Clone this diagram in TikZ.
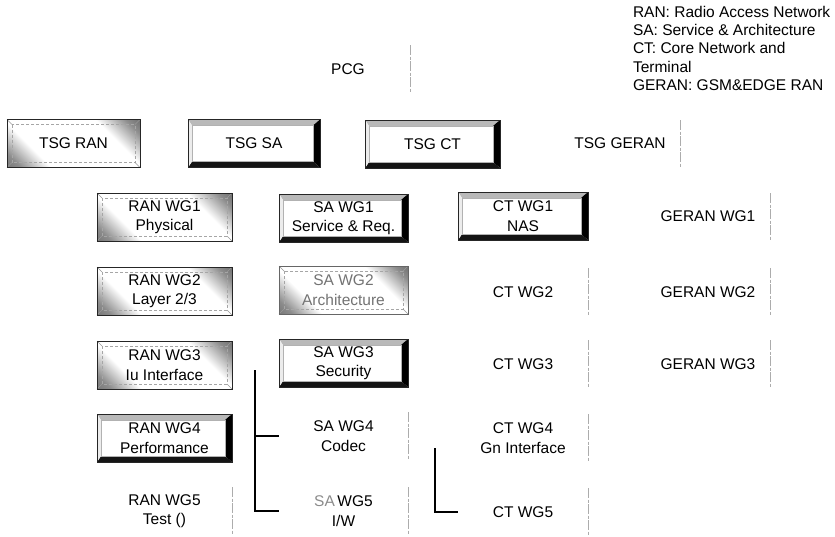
\documentclass[tikz,border=0pt]{standalone}
\usepackage{fontspec}
\setmainfont{Liberation Sans}
\usetikzlibrary{calc,backgrounds}
\pgfdeclarehorizontalshading{diagsh}{100bp}{color(0bp)=(black!75); color(20bp)=(black!45); color(32bp)=(white); color(68bp)=(white); color(80bp)=(black!45); color(100bp)=(black!85)}
\newcommand\cornerpts[5]{% node, top, right, bottom, left inset
  \path (#1.north west) coordinate (bNW) (#1.north east) coordinate (bNE)
        (#1.south east) coordinate (bSE) (#1.south west) coordinate (bSW);
  \path ($(bNW)+(#5,#2)$) coordinate (iNW) ($(bNE)+(-#3,#2)$) coordinate (iNE)
        ($(bSE)+(-#3,-#4)$) coordinate (iSE) ($(bSW)+(#5,-#4)$) coordinate (iSW);
}
\newcommand\raisedbevel[1]{%
  \begin{pgfonlayer}{background}
  \cornerpts{#1}{6}{7}{6}{4}
  \fill[white] (bNW) rectangle (bSE);
  \fill[gray!55] (bNW)--(bNE)--(iNE)--(iNW)--cycle;
  \fill[black] (bNE)--(bSE)--(iSE)--(iNE)--cycle;
  \fill[black!92] (bSW)--(bSE)--(iSE)--(iSW)--cycle;
  \fill[gray!15] (bNW)--(bSW)--(iSW)--(iNW)--cycle;
  \draw[gray!60, line width=0.4pt] (iNW) rectangle (iSE);
  \end{pgfonlayer}}
\newcommand\lightbevel[1]{%
  \begin{pgfonlayer}{background}
  \cornerpts{#1}{5}{5}{5}{5}
  \shade[shading=diagsh, shading angle=45] (bSW) rectangle (bNE);
  \draw[gray!70, line width=0.5pt, densely dashed] (iNW) rectangle (iSE);
  \draw[gray!80, line width=0.5pt] (bNW)--(iNW) (bNE)--(iNE) (bSE)--(iSE) (bSW)--(iSW);
  \end{pgfonlayer}}
\tikzset{
  lbl/.style={font=\fontsize{15.5}{19.5}\selectfont, align=center, inner sep=0pt, outer sep=0pt},
  boxn/.style={lbl, draw=black!85, line width=0.7pt, minimum height=48pt},
  plain/.style={lbl, minimum height=48pt},
  ghost/.style={draw=gray!65, line width=0.7pt, dash pattern=on 10pt off 1.5pt on 3pt off 1.5pt},
  conn/.style={draw=black, line width=1.1pt},
  rancol/.style={minimum width=135pt},
  sacol/.style={minimum width=129pt},
  ctcol/.style={minimum width=130pt},
  gercol/.style={minimum width=124pt},
}
\begin{document}
\begin{tikzpicture}[x=1pt,y=-1pt]
\useasboundingbox (0,0) rectangle (835,536);

% legend
\node[lbl, align=left, anchor=north west, font=\fontsize{15.5}{18.3}\selectfont] (legend) at (633,6)
  {RAN: Radio Access Network\\SA: Service \& Architecture\\CT: Core Network and\\Terminal\\GERAN: GSM\&EDGE RAN};

% top
\node[plain, minimum width=124pt] (pcg) at (348,69) {PCG};

% TSG row
\node[boxn, minimum width=133pt] (tsgran) at (73.5,143.5) {TSG RAN};
\node[boxn, minimum width=132pt] (tsgsa) at (254,143.5) {TSG SA};
\node[boxn, minimum width=135pt] (tsgct) at (432.5,144) {TSG CT};
\node[plain, minimum width=120pt, minimum height=47pt] (tsggeran) at (620,143.5) {TSG GERAN};

% RAN column
\node[boxn, rancol] (ranwg1) at (164.5,217) {RAN WG1\\Physical};
\node[boxn, rancol] (ranwg2) at (164.5,291) {RAN WG2\\Layer 2/3};
\node[boxn, rancol] (ranwg3) at (164.5,365) {RAN WG3\\Iu Interface};
\node[boxn, rancol] (ranwg4) at (164.5,438) {RAN WG4\\Performance};
\node[plain, rancol] (ranwg5) at (164.5,511) {RAN WG5\\Test ()};

% SA column
\node[boxn, sacol] (sawg1) at (343.5,218) {SA WG1\\Service \& Req.};
\node[boxn, sacol, draw=black!60, text=black!55] (sawg2) at (343.5,290) {SA WG2\\Architecture};
\node[boxn, sacol] (sawg3) at (343.5,363) {SA WG3\\Security};
\node[plain, sacol] (sawg4) at (343.5,436) {SA WG4\\Codec};
\node[plain, sacol] (sawg5) at (343.5,511) {{\color{black!45}SA}\,WG5\\I/W};

% CT column
\node[boxn, ctcol] (ctwg1) at (523,216) {CT WG1\\NAS};
\node[plain, ctcol] (ctwg2) at (523,292) {CT WG2};
\node[plain, ctcol] (ctwg3) at (523,364) {CT WG3};
\node[plain, ctcol] (ctwg4) at (523,438) {CT WG4\\Gn Interface};
\node[plain, ctcol] (ctwg5) at (523,512) {CT WG5};

% GERAN column
\node[plain, gercol, minimum height=47pt] (geranwg1) at (708,216.5) {GERAN WG1};
\node[plain, gercol] (geranwg2) at (708,292) {GERAN WG2};
\node[plain, gercol] (geranwg3) at (708,364) {GERAN WG3};

% bevels
\raisedbevel{tsgsa}
\raisedbevel{tsgct}
\raisedbevel{sawg1}
\raisedbevel{ctwg1}
\raisedbevel{sawg3}
\raisedbevel{ranwg4}
\lightbevel{tsgran}
\lightbevel{ranwg1}
\lightbevel{ranwg2}
\lightbevel{ranwg3}
\lightbevel{sawg2}

% ghost edges of unframed boxes
\foreach \n in {pcg,tsggeran,geranwg1,geranwg2,geranwg3,ctwg2,ctwg3,ctwg4,ctwg5,sawg4,sawg5,ranwg5}
  \draw[ghost] (\n.north east) -- (\n.south east);

% brackets
\coordinate (brA) at (255,370);
\draw[conn] (brA) |- (sawg5.west);
\draw[conn] (brA |- sawg4.west) -- (sawg4.west);
\coordinate (brB) at (435,448);
\draw[conn] (brB) |- (ctwg5.west);
\end{tikzpicture}
\end{document}
